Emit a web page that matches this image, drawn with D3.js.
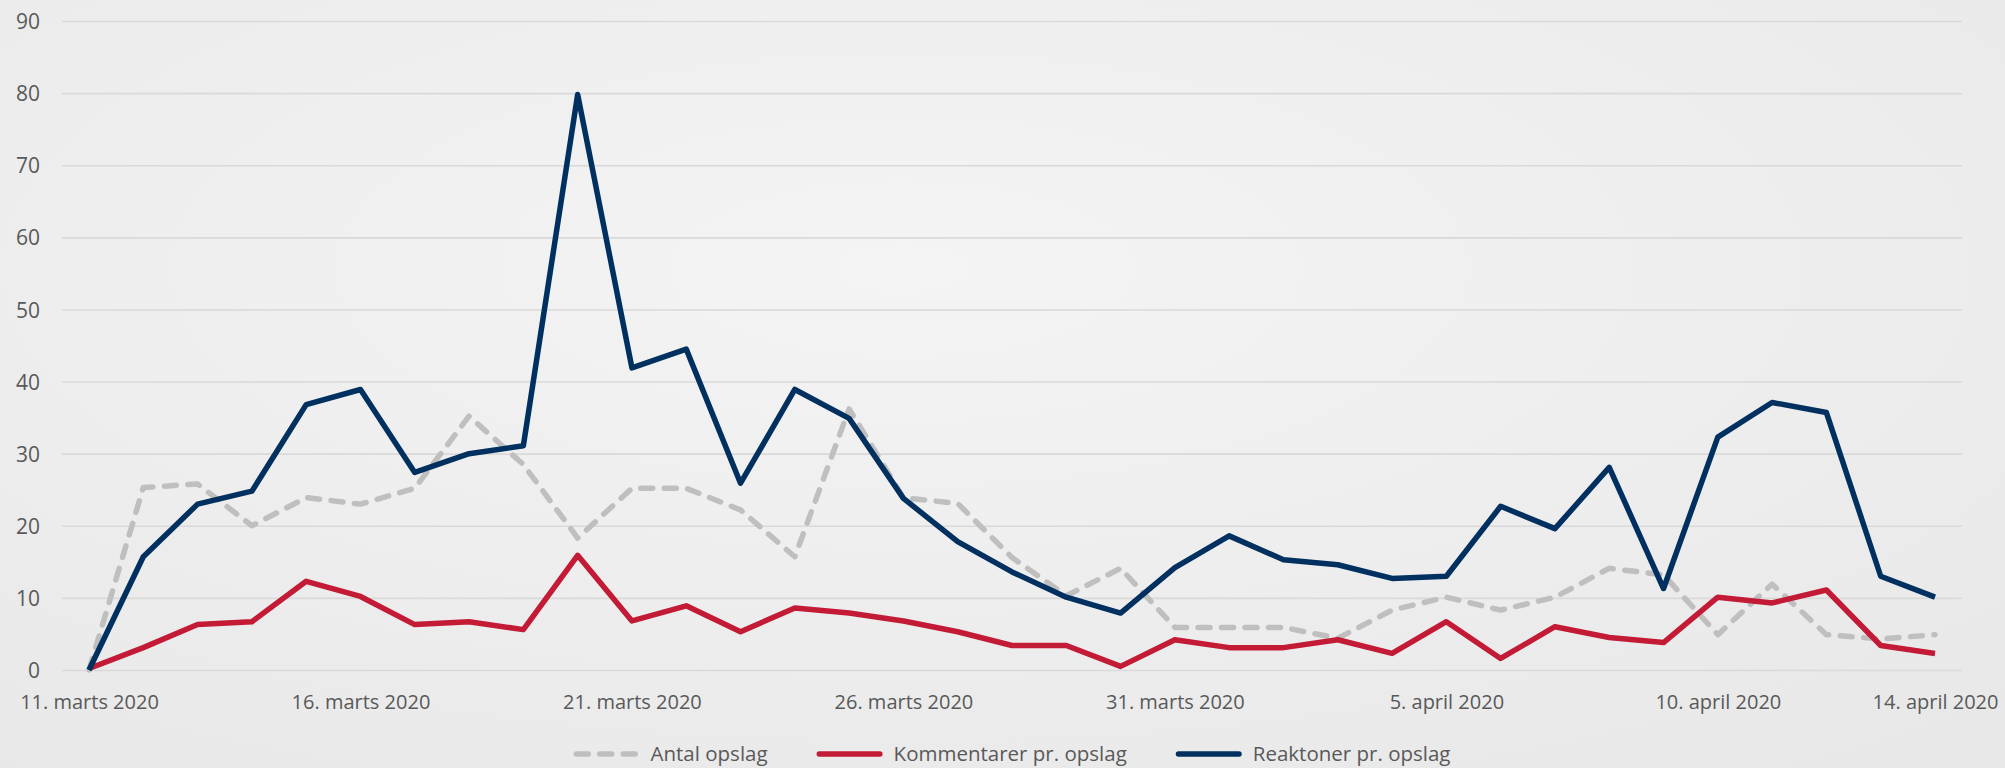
<!DOCTYPE html>
<html>
<head>
<meta charset="utf-8">
<script src="https://cdn.jsdelivr.net/npm/d3@7"></script>
<style>
    body { margin: 0; }
    text { font-family: "Open Sans", "Noto Sans", sans-serif; fill: #595959; }
</style>
</head>
<body>
<svg id="chart"></svg>
<script>
// data, one value per day, 11. marts - 14. april 2020
var startDate = new Date(2020, 2, 11);
var antalOpslag = [0, 25.3, 25.8, 20.0, 23.9, 23.0, 25.2, 35.2, 28.5, 18.3,
    25.2, 25.2, 22.2, 15.7, 36.2, 23.9, 23.1, 15.6, 10.3, 14.1,
    5.9, 5.9, 5.9, 4.4, 8.3, 10.1, 8.3, 10.1, 14.1, 13.2,
    4.9, 11.9, 4.9, 4.3, 4.9];
var kommentarer = [0.2, 3.1, 6.3, 6.7, 12.3, 10.2, 6.3, 6.7, 5.6, 15.9,
    6.8, 8.9, 5.3, 8.6, 7.9, 6.8, 5.3, 3.4, 3.4, 0.5,
    4.2, 3.1, 3.1, 4.2, 2.3, 6.7, 1.6, 6.0, 4.5, 3.8,
    10.1, 9.3, 11.1, 3.4, 2.3];
var reaktioner = [0, 15.7, 23.0, 24.8, 36.8, 38.9, 27.4, 30.0, 31.1, 79.8,
    41.9, 44.5, 25.9, 38.9, 34.9, 23.8, 17.8, 13.6, 10.1, 7.9,
    14.2, 18.6, 15.3, 14.6, 12.7, 13.0, 22.7, 19.6, 28.1, 11.3,
    32.3, 37.1, 35.7, 13.0, 10.1];

var tickDates = [new Date(2020, 2, 11), new Date(2020, 2, 16), new Date(2020, 2, 21),
    new Date(2020, 2, 26), new Date(2020, 2, 31), new Date(2020, 3, 5),
    new Date(2020, 3, 10), new Date(2020, 3, 14)];
var tickLabels = ["11. marts 2020", "16. marts 2020", "21. marts 2020", "26. marts 2020",
    "31. marts 2020", "5. april 2020", "10. april 2020", "14. april 2020"];
var yTicks = [0, 10, 20, 30, 40, 50, 60, 70, 80, 90];

var seriesNames = ["Antal opslag", "Kommentarer pr. opslag", "Reaktoner pr. opslag"];
var seriesValues = [antalOpslag, kommentarer, reaktioner];
var seriesColors = ["#bfbfbf", "#c31a35", "#00305f"];

var width = 2005;
var height = 768;

var svg = d3.select("#chart")
    .attr("width", width)
    .attr("height", height);

// background
var defs = svg.append("defs");
var grad = defs.append("radialGradient")
    .attr("id", "bg")
    .attr("cx", "45%").attr("cy", "35%").attr("r", "80%");
grad.append("stop").attr("offset", "0%").attr("stop-color", "#f4f4f4");
grad.append("stop").attr("offset", "100%").attr("stop-color", "#e8e8e8");
svg.append("rect")
    .attr("width", width)
    .attr("height", height)
    .attr("fill", "url(#bg)");

// scales
function dayDate(i) {
    return d3.timeDay.offset(startDate, i);
}
var x = d3.scaleTime()
    .domain([startDate, dayDate(antalOpslag.length - 1)])
    .range([89, 1935]);
var y = d3.scaleLinear()
    .domain([0, 90])
    .range([670, 21]);

var plotLeft = 62;
var plotRight = 1962;

// y gridlines + labels
var gy = svg.append("g")
    .attr("transform", "translate(" + plotLeft + ",0)")
    .call(d3.axisLeft(y)
        .tickValues(yTicks)
        .tickSize(-(plotRight - plotLeft))
        .tickPadding(22)
        .tickFormat(d3.format("d")));
gy.select(".domain").remove();
gy.selectAll(".tick line")
    .attr("stroke", "#d9d9d9")
    .attr("stroke-width", 1.6);
gy.selectAll(".tick text")
    .attr("font-size", 21)
    .attr("dy", "0.36em")
    .style("font-family", null);

// x labels
var gx = svg.append("g")
    .attr("transform", "translate(0,670)")
    .call(d3.axisBottom(x)
        .tickValues(tickDates)
        .tickSize(0)
        .tickPadding(25)
        .tickFormat(function(d, i) { return tickLabels[i]; }));
gx.select(".domain").remove();
gx.selectAll(".tick text")
    .attr("font-size", 20)
    .style("font-family", null);

// lines
var lineFn = d3.line()
    .x(function(d, i) { return x(dayDate(i)); })
    .y(function(d) { return y(d); });

seriesValues.forEach(function(values, k) {
    var path = svg.append("path")
        .datum(values)
        .attr("d", lineFn)
        .attr("fill", "none")
        .attr("stroke", seriesColors[k])
        .attr("stroke-width", 5.5)
        .attr("stroke-linejoin", "round");
    if (k == 0) {
        path.attr("stroke-dasharray", "12,11.5")
            .attr("stroke-linecap", "round");
    }
});

// legend
var legend = svg.append("g");
var lineLen = 66;
var textGap = 11;
var itemGap = 49;
var cursor = 0;
seriesNames.forEach(function(name, k) {
    var item = legend.append("g").attr("transform", "translate(" + cursor + ",0)");
    var ln = item.append("line")
        .attr("x1", 2.75).attr("x2", lineLen - 2.75)
        .attr("y1", 0).attr("y2", 0)
        .attr("stroke", seriesColors[k])
        .attr("stroke-width", 5.5)
        .attr("stroke-linecap", "round");
    if (k == 0) ln.attr("stroke-dasharray", "12,11.5");
    var t = item.append("text")
        .attr("x", lineLen + textGap)
        .attr("y", 0)
        .attr("dy", "0.36em")
        .attr("font-size", 20.5)
        .text(name);
    cursor += lineLen + textGap + t.node().getComputedTextLength() + itemGap;
});
var legendWidth = cursor - itemGap;
legend.attr("transform", "translate(" + ((plotLeft + plotRight) / 2 - legendWidth / 2) + ",754)");
</script>
</body>
</html>
